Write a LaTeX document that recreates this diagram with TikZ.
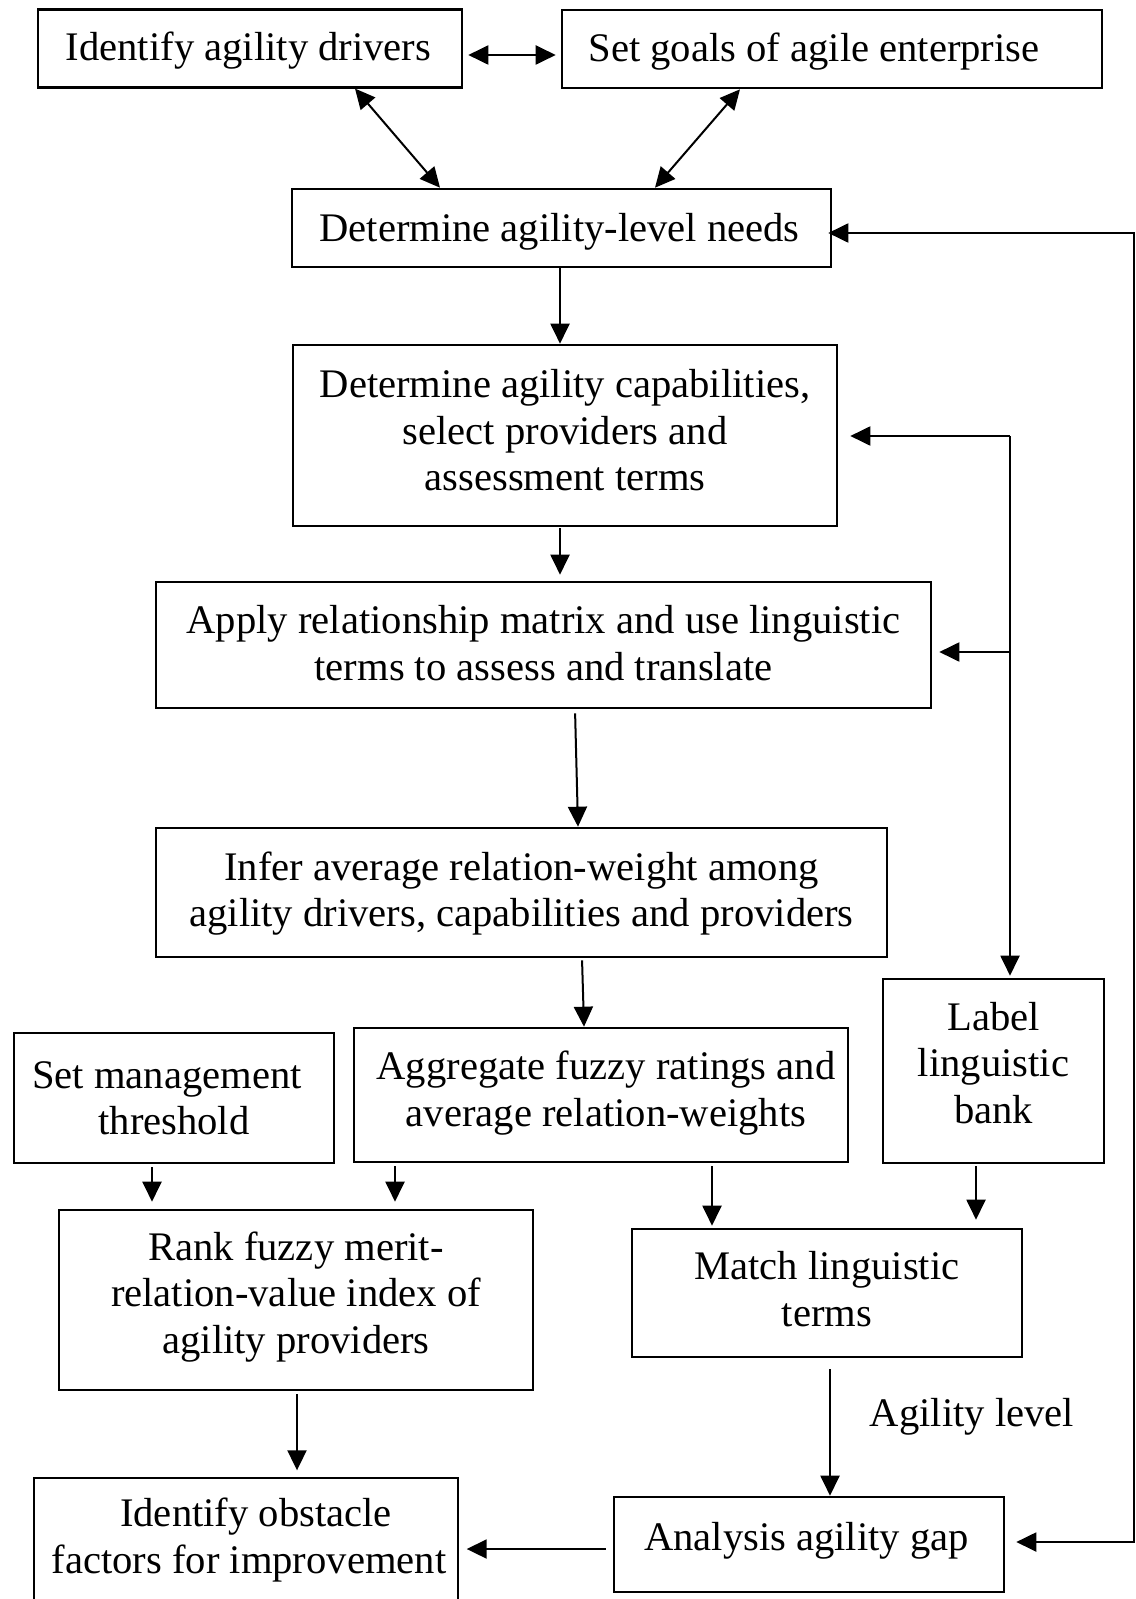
\documentclass[tikz,border=0pt]{standalone}
\usepackage{fontspec}
\setmainfont{Liberation Serif}
\usetikzlibrary{arrows.meta}
\tikzset{
  txt/.style={font=\fontsize{20.3pt}{23.2pt}\selectfont, inner sep=0pt, align=center},
  bx/.style={draw, line width=1.3pt, inner sep=0pt},
  thinbx/.style={bx, line width=0.7pt},
  tip/.tip={Triangle[length=10pt,width=9.5pt]},
  con/.style={line width=1pt, -tip},
  dcon/.style={line width=1pt, tip-tip},
}
\begin{document}
\begin{tikzpicture}[x=0.5pt,y=-0.5pt]
\useasboundingbox (0,0) rectangle (1135,1599);
% boxes
\node[bx, minimum width=212pt, minimum height=39pt] (drv) at (250,48.3) {};
\node[bx, minimum width=270pt, minimum height=39pt] (goals) at (832,49) {};
\node[bx, minimum width=269.5pt, minimum height=39pt] (need) at (561.5,228) {};
\node[bx, minimum width=272pt, minimum height=90.5pt] (cap) at (565,435.5) {};
\node[bx, minimum width=387.5pt, minimum height=63pt] (app) at (543.5,645) {};
\node[bx, minimum width=365.5pt, minimum height=64.5pt] (inf) at (521.5,892.5) {};
\node[bx, minimum width=160pt, minimum height=65pt] (thr) at (174,1098) {};
\node[bx, minimum width=247pt, minimum height=67pt] (agg) at (601,1095) {};
\node[bx, minimum width=110.5pt, minimum height=92pt] (bank) at (993.5,1071) {};
\node[bx, minimum width=237pt, minimum height=90pt] (rank) at (296,1300) {};
\node[bx, minimum width=195pt, minimum height=64pt] (match) at (827,1293) {};
\node[thinbx, minimum width=212pt, minimum height=62pt] (obs) at (246,1540) {};
\node[bx, minimum width=195pt, minimum height=47.5pt] (gap) at (809,1544.5) {};
% texts
\node[txt] (drvt) at ([xshift=-0.75pt,yshift=-1pt]drv.center) {Identify agility drivers};
\node[txt] (goalst) at ([xshift=-9pt,yshift=-1.5pt]goals.center) {Set goals of agile enterprise};
\node[txt] (needt) at ([xshift=-1pt,yshift=-2pt]need.center) {Determine agility-level needs};
\node[txt] (capt) at ([yshift=2.5pt]cap.center) {Determine agility capabilities,\\select providers and\\assessment terms};
\node[txt] (appt) at ([yshift=1pt]app.center) {Apply relationship matrix and use linguistic\\terms to assess and translate};
\node[txt] (inft) at ([yshift=-0.5pt]inf.center) {Infer average relation-weight among\\agility drivers, capabilities and providers};
\node[txt] (thrt) at (thr.center) {Set management\rule{7pt}{0pt}\\threshold};
\node[txt] (aggt) at ([xshift=2.5pt,yshift=1pt]agg.center) {Aggregate fuzzy ratings and\\average relation-weights};
\node[txt] (bankt) at ([yshift=4pt]bank.center) {Label\\linguistic\\bank};
\node[txt] (rankt) at ([yshift=1.5pt]rank.center) {Rank fuzzy merit-\\relation-value index of\\agility providers};
\node[txt] (matcht) at ([yshift=2pt]match.center) {Match linguistic\\terms};
\node[txt] (obst) at ([xshift=1.5pt]obs.center) {\rule{7pt}{0pt}Identify obstacle\\factors for improvement};
\node[txt] (gapt) at ([xshift=-1.25pt,yshift=2pt]gap.center) {Analysis agility gap};
\node[txt, anchor=base] (lvl) at (972,1426) {Agility level};
% top connectors
\draw[dcon, shorten <=2.5pt, shorten >=2.5pt] ([yshift=-3.35pt]drv.east) -- ([yshift=-3.35pt]drv.east -| goals.west);
\draw[dcon] ([xshift=52.5pt]drv.south) -- ([xshift=-60.75pt]need.north);
\draw[dcon] ([xshift=-46pt]goals.south) -- ([xshift=46.75pt]need.north);
% main chain
\draw[con] ([xshift=-0.75pt]need.south) -- ([xshift=-0.75pt]need.south |- cap.north);
\draw[con, shorten <=0.5pt, shorten >=3pt] ([xshift=-2.5pt]cap.south) -- ([xshift=-2.5pt]cap.south |- app.north);
\draw[con, shorten <=2pt] ([xshift=15.75pt]app.south) -- ([xshift=28.25pt]inf.north);
\draw[con, shorten <=1pt] ([xshift=30.25pt]inf.south) -- ([xshift=-8.5pt]agg.north);
\draw[con, shorten <=1.5pt, shorten >=3.5pt] ([xshift=-11pt]thr.south) -- ([xshift=-11pt]thr.south |- rank.north);
\draw[con, shorten <=1.5pt, shorten >=3.5pt] ([xshift=-103pt]agg.south) -- ([xshift=-103pt]agg.south |- rank.north);
\draw[con, shorten <=1.5pt, shorten >=1pt] ([xshift=55.5pt]agg.south) -- ([xshift=55.5pt]agg.south |- match.north);
\draw[con, shorten <=1pt, shorten >=4pt] ([xshift=-8.75pt]bank.south) -- ([xshift=-8.75pt]bank.south |- match.north);
\draw[con, shorten <=1.5pt, shorten >=3.5pt] ([xshift=0.5pt]rank.south) -- ([xshift=0.5pt]rank.south |- obs.north);
\draw[con, shorten <=5.5pt] ([xshift=1.5pt]match.south) -- ([xshift=1.5pt]match.south |- gap.north);
\draw[con, shorten <=3.5pt, shorten >=4pt] ([yshift=-2.25pt]gap.west) -- ([yshift=-2.25pt]gap.west -| obs.east);
% feedback loop on the right
\coordinate (fb1) at (1134,233);
\coordinate (fb2) at (1134,1542);
\draw[dcon, shorten <=5.5pt, shorten >=-2pt] ([yshift=1.25pt]gap.east) -- (fb2) -- (fb1) -- (fb1 -| need.east);
% branch to linguistic bank
\coordinate (br1) at (1010,436);
\coordinate (br2) at (1010,652);
\draw[con, shorten >=6pt] (br1) -- (br1 -| cap.east);
\draw[con, shorten >=3.5pt] (br2) -- (br2 -| app.east);
\draw[con, shorten >=1pt] (br1) -- (br1 |- bank.north);
\end{tikzpicture}
\end{document}
